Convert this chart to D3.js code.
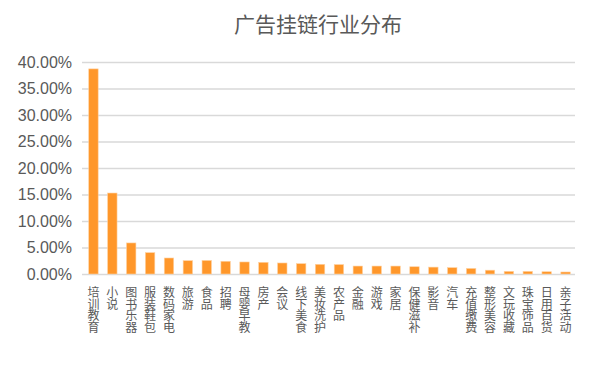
<!DOCTYPE html>
<html><head><meta charset="utf-8">
<script src="https://cdn.jsdelivr.net/npm/d3@7/dist/d3.min.js"></script>
<style>body{margin:0;background:#fff}svg{display:block}</style>
</head><body><svg id="c" width="593" height="368"></svg>
<script>
const title = "广告挂链行业分布";
const categories = ["培训教育","小说","图书乐器","服装鞋包","数码家电","旅游","食品","招聘","母婴早教","房产","会议","线下美食","美妆洗护","农产品","金融","游戏","家居","保健滋补","影音","汽车","充值缴费","整形美容","文玩收藏","珠宝饰品","日用百货","亲子活动"];
const values = [38.7,15.28,5.86,4.03,3.02,2.52,2.56,2.4,2.27,2.2,2.08,1.95,1.83,1.78,1.5,1.5,1.5,1.37,1.3,1.2,1.05,0.72,0.5,0.5,0.43,0.38];
const yTicks = [0,5,10,15,20,25,30,35,40];

const svg = d3.select("#c");
const m = {l:84, r:18, t:62, b:94};
const W = 593, H = 368;
const x = d3.scaleBand().domain(categories).range([m.l, W-m.r]).paddingInner(0.5).paddingOuter(0.25);
const y = d3.scaleLinear().domain([0,40]).range([274, 62]);
const grey = "#595959";

svg.append("text").attr("x",318).attr("y",32).attr("text-anchor","middle")
  .attr("font-family","'Noto Sans CJK SC', sans-serif").attr("font-size",21).attr("fill",grey).text(title);

const ga = svg.append("g").attr("transform",`translate(${m.l},0)`)
  .call(d3.axisLeft(y).tickValues(yTicks).tickFormat(d=>d.toFixed(2)+"%").tickSize(-(W-m.l-m.r)).tickPadding(12));
ga.select(".domain").remove();
ga.selectAll(".tick line").attr("stroke","#d9d9d9").attr("stroke-width",1.5).attr("x1",-2);
ga.selectAll(".tick text").attr("fill",grey).attr("font-size",16).attr("font-family","'Liberation Sans', Arial, sans-serif");

svg.append("g").selectAll("rect").data(values).join("rect")
  .attr("x",(d,i)=>x(categories[i])).attr("width",x.bandwidth())
  .attr("y",d=>y(d)).attr("height",d=>y(0)-y(d))
  .attr("fill","#ff972a").attr("stroke","#ffd2a3").attr("stroke-width",0.6);

const lbl = svg.append("g").attr("font-family","'Noto Sans CJK SC', sans-serif").attr("font-size",12).attr("fill",grey);
categories.forEach(c=>{
  [...c].forEach((ch,j)=>{
    lbl.append("text").attr("text-anchor","middle")
      .attr("x",x(c)+x.bandwidth()/2).attr("y",297+j*11.7).text(ch);
  });
});
</script></body></html>
